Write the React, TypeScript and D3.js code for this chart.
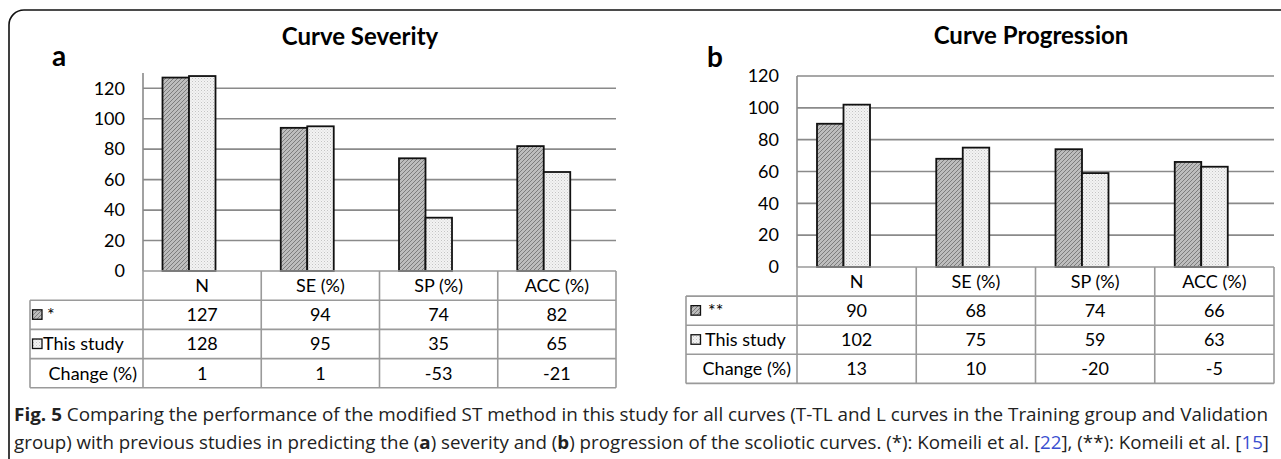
import React, { useLayoutEffect, useRef, useState } from "react";
import * as d3 from "d3";

const categories = ["N", "SE (%)", "SP (%)", "ACC (%)"];

const severityPrior = [127, 94, 74, 82];
const severityStudy = [128, 95, 35, 65];
const severityChange = [1, 1, -53, -21];

const progressionPrior = [90, 68, 74, 66];
const progressionStudy = [102, 75, 59, 63];
const progressionChange = [13, 10, -20, -5];

const yTicks = [0, 20, 40, 60, 80, 100, 120];

const FONT = "Lato, 'Open Sans', sans-serif";

type PanelProps = {
  title: string;
  letter: string;
  priorLabel: string;
  prior: number[];
  study: number[];
  change: number[];
  x0: number;
  x1: number;
  tableLeft: number;
  yTop: number;
  yZero: number;
  yMax: number;
  axisTop: number;
  titleX: number;
  titleY: number;
  letterX: number;
  letterY: number;
  rowH: number;
  innerStart: number;
  swatchPad: number;
  labelPad: number;
  starPad: number;
};

function Panel(p: PanelProps) {
  const x = d3.scaleBand<string>().domain(categories).range([p.x0, p.x1]).padding(0);
  const y = d3.scaleLinear().domain([0, p.yMax]).range([p.yZero, p.yTop]);
  const series = ["prior", "study"];
  const inner = d3
    .scaleBand<string>()
    .domain(series)
    .range([p.innerStart, p.innerStart + 53])
    .padding(0);
  const data = [p.prior, p.study];
  const fills = ["url(#hatch)", "url(#dots)"];
  const gridColor = "#8a8a8a";
  const tableColor = "#9a9a9a";
  const rows = [0, 1, 2, 3, 4].map((i) => p.yZero + i * p.rowH);
  const rowLabels = [p.priorLabel, "This study", "Change (%)"];
  const labelPads = [p.starPad, p.labelPad];
  const rowValues = [p.prior, p.study, p.change];
  const fs = 18;
  return (
    <g>
      <text x={p.titleX} y={p.titleY} textAnchor="middle" fontFamily={FONT} fontWeight="bold" fontSize={24}>
        {p.title}
      </text>
      <text x={p.letterX} y={p.letterY} fontFamily={FONT} fontWeight="bold" fontSize={28}>
        {p.letter}
      </text>
      {yTicks.filter((t) => t > 0).map((t) => (
        <line key={t} x1={p.x0} x2={p.x1} y1={y(t)} y2={y(t)} stroke={gridColor} strokeWidth={1.6} />
      ))}
      <line x1={p.x0} x2={p.x0} y1={p.axisTop} y2={p.yZero} stroke={gridColor} strokeWidth={1.6} />
      {yTicks.map((t) => (
        <text key={t} x={p.x0 - 18} y={y(t)} dy="0.35em" textAnchor="end" fontFamily={FONT} fontSize={fs}>
          {t}
        </text>
      ))}
      {data.map((vals, si) =>
        vals.map((v, ci) => (
          <rect
            key={si + "-" + ci}
            x={(x(categories[ci]) as number) + (inner(series[si]) as number)}
            y={y(v)}
            width={inner.bandwidth()}
            height={p.yZero - y(v)}
            fill={fills[si]}
            stroke="#111"
            strokeWidth={1.8}
          />
        ))
      )}
      <line x1={p.x0} x2={p.x1} y1={rows[0]} y2={rows[0]} stroke={tableColor} strokeWidth={1.6} />
      {rows.slice(1).map((r, i) => (
        <line key={i} x1={p.tableLeft} x2={p.x1} y1={r} y2={r} stroke={tableColor} strokeWidth={1.6} />
      ))}
      <line x1={p.tableLeft} x2={p.tableLeft} y1={rows[1]} y2={rows[4]} stroke={tableColor} strokeWidth={1.6} />
      {categories.map((c) => (
        <line
          key={c}
          x1={x(c) as number}
          x2={x(c) as number}
          y1={rows[0]}
          y2={rows[4]}
          stroke={tableColor}
          strokeWidth={1.6}
        />
      ))}
      <line x1={p.x1} x2={p.x1} y1={rows[0]} y2={rows[4]} stroke={tableColor} strokeWidth={1.6} />
      {categories.map((c) => (
        <text
          key={c}
          x={(x(c) as number) + x.bandwidth() / 2}
          y={(rows[0] + rows[1]) / 2}
          dy="0.35em"
          textAnchor="middle"
          fontFamily={FONT}
          fontSize={fs}
        >
          {c}
        </text>
      ))}
      {rowValues.map((vals, ri) =>
        vals.map((v, ci) => (
          <text
            key={ri + "-" + ci}
            x={(x(categories[ci]) as number) + x.bandwidth() / 2}
            y={(rows[ri + 1] + rows[ri + 2]) / 2}
            dy="0.35em"
            textAnchor="middle"
            fontFamily={FONT}
            fontSize={fs}
          >
            {v}
          </text>
        ))
      )}
      {[0, 1].map((ri) => (
        <g key={ri}>
          <rect
            x={p.tableLeft + p.swatchPad}
            y={(rows[ri + 1] + rows[ri + 2]) / 2 - 5}
            width={9.5}
            height={9.5}
            fill={fills[ri]}
            stroke="#111"
            strokeWidth={1.3}
          />
          <text
            x={p.tableLeft + labelPads[ri]}
            y={(rows[ri + 1] + rows[ri + 2]) / 2}
            dy="0.35em"
            fontFamily={FONT}
            fontSize={fs}
          >
            {rowLabels[ri]}
          </text>
        </g>
      ))}
      <text
        x={p.x0 - 6}
        y={(rows[3] + rows[4]) / 2}
        dy="0.35em"
        textAnchor="end"
        fontFamily={FONT}
        fontSize={fs}
      >
        {rowLabels[2]}
      </text>
    </g>
  );
}

function FitText(props: { x0: number; x1: number; y: number; children: React.ReactNode }) {
  const ref = useRef<SVGTextElement>(null);
  const [sx, setSx] = useState(1);
  useLayoutEffect(() => {
    const measure = () => {
      if (ref.current) {
        const w = ref.current.getBBox().width;
        if (w > 0) setSx((props.x1 - props.x0) / w);
      }
    };
    measure();
    const fonts = (document as any).fonts;
    if (fonts && fonts.ready) fonts.ready.then(measure);
    const t = setTimeout(measure, 100);
    return () => clearTimeout(t);
  }, []);
  return (
    <g transform={`translate(${props.x1},${props.y}) scale(${sx},1)`}>
      <text
        ref={ref}
        x={0}
        y={0}
        textAnchor="end"
        fontFamily="'Open Sans', sans-serif"
        fontSize={18}
        fill="#222"
      >
        {props.children}
      </text>
    </g>
  );
}

export default function App() {
  return (
    <svg width={1281} height={459} style={{ position: "absolute", left: 0, top: 0, background: "#fff" }}>
      <defs>
        <pattern id="hatch" width={4} height={4} patternUnits="userSpaceOnUse">
          <rect width={4} height={4} fill="#bdbdbd" />
          <path d="M-1,1 l2,-2 M0,4 l4,-4 M3,5 l2,-2" stroke="#7d7d7d" strokeWidth={1} />
        </pattern>
        <pattern id="dots" width={3} height={3} patternUnits="userSpaceOnUse">
          <rect width={3} height={3} fill="#f3f3f3" />
          <rect x={0} y={0} width={1} height={1} fill="#c4c4c4" />
          <rect x={1.5} y={1.5} width={1} height={1} fill="#d6d6d6" />
        </pattern>
      </defs>
      <rect width={1281} height={459} fill="#fff" />
      <path d="M 9 459 V 25 A 15 15 0 0 1 24 10 H 1281" fill="none" stroke="#111" strokeWidth={1.6} />
      <Panel
        title="Curve Severity"
        letter="a"
        priorLabel="*"
        prior={severityPrior}
        study={severityStudy}
        change={severityChange}
        x0={143}
        x1={616}
        tableLeft={30}
        yTop={73}
        yZero={271}
        yMax={130}
        axisTop={73}
        titleX={360}
        titleY={45}
        letterX={52}
        letterY={66}
        rowH={29.2}
        innerStart={19.5}
        swatchPad={2.5}
        labelPad={13}
        starPad={17}
      />
      <Panel
        title="Curve Progression"
        letter="b"
        priorLabel="**"
        prior={progressionPrior}
        study={progressionStudy}
        change={progressionChange}
        x0={797}
        x1={1274}
        tableLeft={686}
        yTop={76}
        yZero={267}
        yMax={120}
        axisTop={76}
        titleX={1031}
        titleY={44}
        letterX={707}
        letterY={67}
        rowH={29.1}
        innerStart={20}
        swatchPad={5}
        labelPad={19}
        starPad={22}
      />
      <FitText x0={14} x1={1268} y={421}>
        <tspan fontWeight="bold">Fig. 5</tspan>
        {" Comparing the performance of the modified ST method in this study for all curves (T-TL and L curves in the Training group and Validation"}
      </FitText>
      <FitText x0={14} x1={1269} y={449}>
        {"group) with previous studies in predicting the ("}
        <tspan fontWeight="bold">a</tspan>
        {") severity and ("}
        <tspan fontWeight="bold">b</tspan>
        {") progression of the scoliotic curves. (*): Komeili et al. ["}
        <tspan fill="#3a4fd0">22</tspan>
        {"], (**): Komeili et al. ["}
        <tspan fill="#3a4fd0">15</tspan>
        {"]"}
      </FitText>
    </svg>
  );
}
